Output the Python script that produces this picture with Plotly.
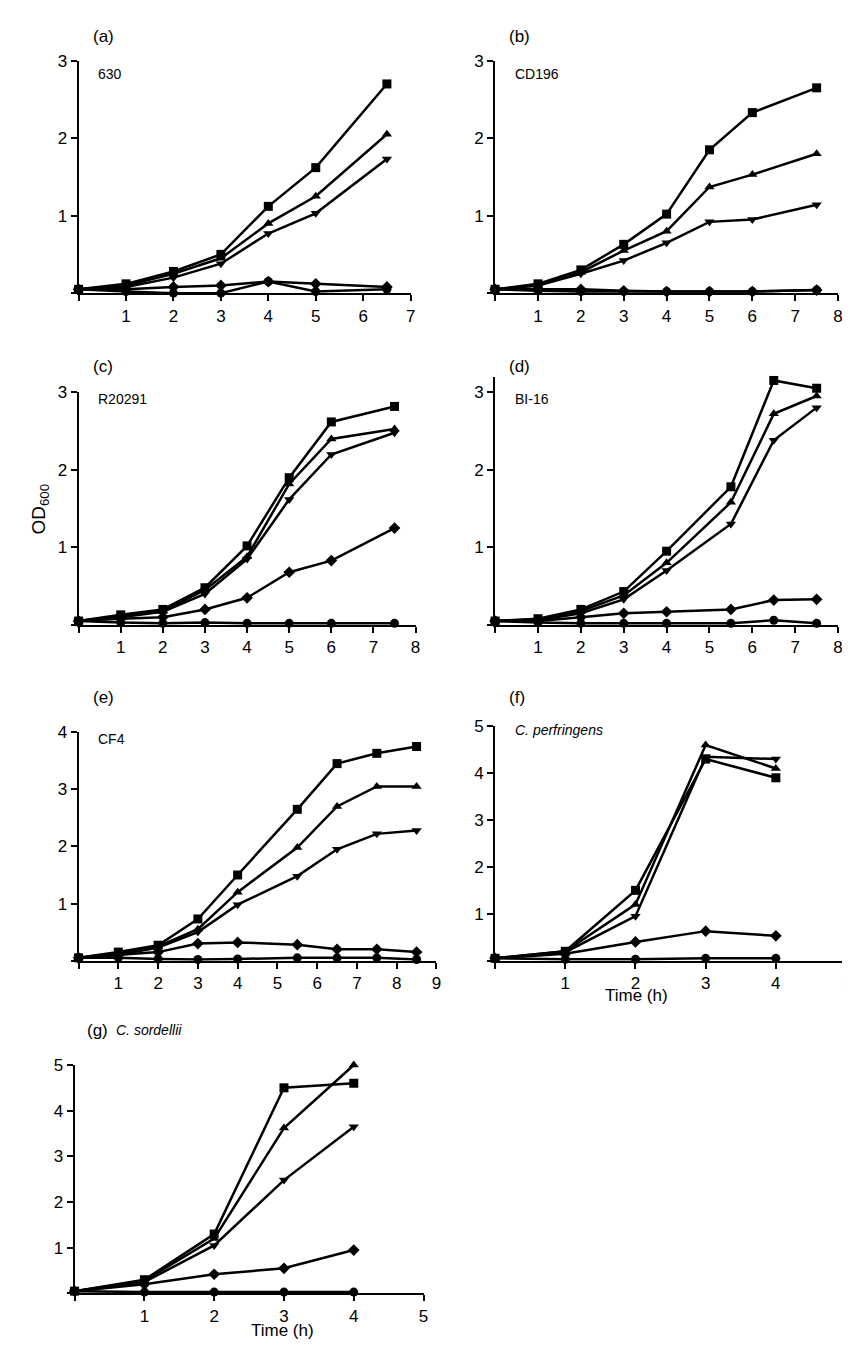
import plotly.graph_objects as go

W, H = 850, 1351

# ---- data (time in h, OD600) ----
names = ['square', 'triangle-up', 'triangle-down', 'diamond', 'circle']

a_x = [0, 1, 2, 3, 4, 5, 6.5]
a_y = [[.05, .12, .28, .50, 1.12, 1.62, 2.70],
       [.05, .10, .25, .45, .90, 1.25, 2.05],
       [.05, .08, .20, .38, .77, 1.03, 1.73],
       [.05, .05, .08, .10, .15, .12, .08],
       [.05, .02, .00, .00, .15, .02, .05]]

b_x = [0, 1, 2, 3, 4, 5, 6, 7.5]
b_y = [[.05, .12, .30, .63, 1.02, 1.85, 2.33, 2.65],
       [.05, .10, .27, .55, .80, 1.37, 1.53, 1.80],
       [.05, .10, .25, .42, .65, .92, .95, 1.14],
       [.05, .05, .05, .03, .02, .02, .02, .04],
       [.05, .03, .02, .02, .02, .02, .02, .04]]

c_x = [0, 1, 2, 3, 4, 5, 6, 7.5]
c_y = [[.05, .13, .20, .48, 1.02, 1.90, 2.62, 2.82],
       [.05, .12, .18, .45, .88, 1.82, 2.40, 2.53],
       [.05, .10, .17, .40, .85, 1.62, 2.20, 2.48],
       [.05, .08, .10, .20, .35, .68, .83, 1.25],
       [.05, .03, .02, .03, .02, .02, .02, .02]]

d_x = [0, 1, 2, 3, 4, 5.5, 6.5, 7.5]
d_y = [[.05, .08, .20, .43, .95, 1.78, 3.15, 3.05],
       [.05, .07, .18, .38, .80, 1.58, 2.72, 2.95],
       [.05, .06, .15, .33, .70, 1.30, 2.38, 2.80],
       [.05, .05, .10, .15, .17, .20, .32, .33],
       [.05, .03, .02, .02, .02, .02, .06, .02]]

e_x = [0, 1, 2, 3, 4, 5.5, 6.5, 7.5, 8.5]
e_y = [[.05, .15, .27, .73, 1.50, 2.65, 3.45, 3.63, 3.75],
       [.05, .12, .25, .55, 1.20, 1.98, 2.70, 3.05, 3.05],
       [.05, .10, .23, .50, .98, 1.48, 1.95, 2.22, 2.28],
       [.05, .10, .15, .30, .32, .28, .20, .20, .15],
       [.05, .05, .03, .02, .03, .05, .05, .05, .02]]

f_x = [0, 1, 2, 3, 4]
f_y = [[.05, .20, 1.50, 4.30, 3.90],
       [.05, .20, 1.20, 4.60, 4.10],
       [.05, .18, .95, 4.35, 4.30],
       [.05, .15, .40, .63, .53],
       [.05, .03, .03, .05, .05]]

g_x = [0, 1, 2, 3, 4]
g_y = [[.05, .30, 1.30, 4.50, 4.60],
       [.05, .28, 1.20, 3.62, 5.00],
       [.05, .25, 1.05, 2.48, 3.65],
       [.05, .20, .42, .55, .95],
       [.05, .03, .03, .03, .03]]

# panel: data, x range, y range, top tick, pixel box (x0, x1, ytop, ybottom), letter, strain
panels = [
    (a_x, a_y, 7, 3, 3, (71, 405, 44, 278), '(a)', '630'),
    (b_x, b_y, 8, 3, 3, (490, 835, 44, 278), '(b)', 'CD196'),
    (c_x, c_y, 8, 3, 3, (71, 410, 378, 612), '(c)', 'R20291'),
    (d_x, d_y, 8, 3.2, 3, (490, 835, 362, 612), '(d)', 'BI-16'),
    (e_x, e_y, 9, 4, 4, (71, 431, 720, 950), '(e)', 'CF4'),
    (f_x, f_y, 5, 5, 5, (490, 843, 714, 950), '(f)', '<i>C. perfringens</i>'),
    (g_x, g_y, 5, 5, 5, (67, 418, 1055, 1285), '(g)', '<i>C. sordellii</i>'),
]

fig = go.Figure()
font = dict(family='Liberation Sans, Arial', size=17, color='black')
ann = []
for i, (xs, ys, xmax, ymax, ytop, box, letter, strain) in enumerate(panels):
    n = '' if i == 0 else str(i + 1)
    x0, x1, yt, yb = box
    for sym, yv in zip(names, ys):
        fig.add_trace(go.Scatter(x=xs, y=yv, mode='lines+markers', xaxis='x' + n, yaxis='y' + n,
                                 line=dict(color='black', width=2.5), cliponaxis=False,
                                 marker=dict(symbol=sym, size=9, color='black'), showlegend=False))
    axstyle = dict(showgrid=False, zeroline=False, showline=True, linecolor='black', linewidth=2,
                   ticks='outside', ticklen=6, tickwidth=2, tickcolor='black', tickfont=font)
    fig.update_layout(**{
        'xaxis' + n: dict(axstyle, domain=[x0 / W, x1 / W], range=[0, xmax], anchor='y' + n,
                          tickvals=list(range(0, xmax + 1)),
                          ticktext=[''] + [str(k) for k in range(1, xmax + 1)]),
        'yaxis' + n: dict(axstyle, domain=[1 - yb / H, 1 - yt / H], range=[0, ymax], anchor='x' + n,
                          tickvals=list(range(0, ytop + 1)),
                          ticktext=[''] + [str(k) for k in range(1, ytop + 1)]),
    })
    if i == 6:
        ann.append(dict(x=(x0 + 10) / W, y=1 - 1020 / H, text=letter, showarrow=False,
                        xref='paper', yref='paper', xanchor='left', yanchor='middle', font=font))
        ann.append(dict(x=(x0 + 40) / W, y=1 - 1020 / H, text=strain, showarrow=False,
                        xref='paper', yref='paper', xanchor='left', yanchor='middle',
                        font=dict(font, size=14)))
    else:
        ly = 20 if i < 2 else (352 if i < 4 else 685)
        ann.append(dict(x=(x0 + 12) / W, y=1 - ly / H, text=letter, showarrow=False,
                        xref='paper', yref='paper', xanchor='left', yanchor='middle', font=font))
        sy = 57 if i < 2 else (385 if i < 4 else (727 if i == 4 else 718))
        ann.append(dict(x=(x0 + 18) / W, y=1 - sy / H, text=strain, showarrow=False,
                        xref='paper', yref='paper', xanchor='left', yanchor='middle',
                        font=dict(font, size=14)))

ann.append(dict(x=18 / W, y=1 - 495 / H, text='OD<sub>600</sub>', showarrow=False, textangle=-90,
                xref='paper', yref='paper', font=dict(font, size=19)))
ann.append(dict(x=666 / W, y=1 - 997 / H, text='Time (h)', showarrow=False,
                xref='paper', yref='paper', font=dict(font, size=17)))
ann.append(dict(x=242 / W, y=1 - 1334 / H, text='Time (h)', showarrow=False,
                xref='paper', yref='paper', font=dict(font, size=17)))

fig.update_layout(width=W, height=H, margin=dict(l=0, r=0, t=0, b=0),
                  plot_bgcolor='white', paper_bgcolor='white', annotations=ann)
fig.write_html("out.html")
